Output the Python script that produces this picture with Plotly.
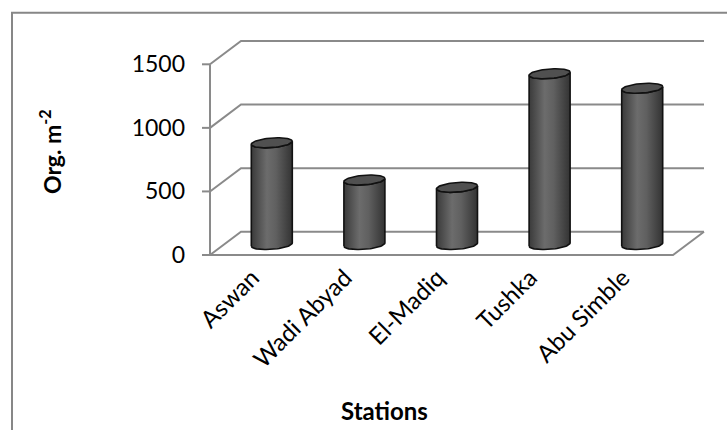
import numpy as np
import plotly.graph_objects as go

# ---------------- data ----------------
stations = ["Aswan", "Wadi Abyad", "El-Madiq", "Tushka", "Abu Simble"]
density = [800, 507, 450, 1343, 1229]
y_ticks = [0, 500, 1000, 1500]
y_title = "Org. m<sup>-2</sup>"
x_title = "Stations"

# ---------------- geometry (pixels) ----------------
W, H = 727, 430
PX_CAT = 92.6              # pixels per category on the front plane
PX_VAL = 190.7 / 1500      # pixels per value unit
X0_PX, Y0_PX = 210, 255    # front-left floor corner
DX = 31 / PX_CAT           # depth offset (category units)
DY = 23.3 / PX_VAL         # depth offset (value units)
L, R, T, B = 200, 715, 30, 262
x_range = [-0.5 + (L - X0_PX) / PX_CAT, -0.5 + (R - X0_PX) / PX_CAT]
y_range = [(Y0_PX - B) / PX_VAL, (Y0_PX - T) / PX_VAL]

def px_paper(px, py):
    return (px - L) / (R - L), (B - py) / (B - T)

GRID = "#8a8a8a"
n = len(stations)
xl, xr = -0.5, n - 0.5

fig = go.Figure()

# walls / gridlines
gx, gy = [], []
for v in y_ticks:
    gx += [xl, xl + DX, xr + DX, None]
    gy += [v, v + DY, v + DY, None]
gx += [xl, xr, xr + DX, None, xl, xl, None]
gy += [0, 0, DY, None, 0, max(y_ticks), None]
for v in y_ticks:
    gx += [xl - 8 / PX_CAT, xl, None]
    gy += [v, v, None]
fig.add_trace(go.Scatter(x=gx, y=gy, mode="lines", line=dict(color=GRID, width=2),
                         hoverinfo="skip", showlegend=False))

# cylinders
RX_PX, RY_PX, SLOPE = 20.5, 4.8, 0.075
base = DY * 0.45

def ell(cx, cy, t):
    ex = RX_PX * np.cos(t)
    ey = RY_PX * np.sin(t) + SLOPE * ex
    return cx + ex / PX_CAT, cy + ey / PX_VAL

for i, v in enumerate(density):
    cx = i + DX / 2
    top = v + base
    tb = np.linspace(np.pi, 2 * np.pi, 40)
    bx, by = ell(cx, base, tb)
    tt = np.linspace(2 * np.pi, np.pi, 40)
    tx, ty = ell(cx, top, tt)
    xs = list(bx) + list(tx) + [bx[0]]
    ys = list(by) + list(ty) + [by[0]]
    fig.add_trace(go.Scatter(
        x=xs, y=ys, mode="lines", fill="toself",
        fillgradient=dict(type="horizontal",
                          colorscale=[[0, "#3a3a3a"], [0.38, "#6c6c6c"],
                                      [0.6, "#606060"], [1, "#333333"]]),
        line=dict(color="#111111", width=1.6),
        hoverinfo="skip", showlegend=False))
    ta = np.linspace(0, 2 * np.pi, 80)
    ex, ey = ell(cx, top, ta)
    fig.add_trace(go.Scatter(
        x=ex, y=ey, mode="lines", fill="toself", fillcolor="#505050",
        line=dict(color="#111111", width=1.6),
        name=stations[i], hovertemplate=f"{stations[i]}: {v}<extra></extra>",
        showlegend=False))

FONT = "Lato, 'Open Sans', sans-serif"
yx, yy = px_paper(50, 152)
sx, sy = px_paper(384, 410)
annotations = [
    dict(text="<b>" + y_title + "</b>", textangle=-90,
         font=dict(size=23, family=FONT, color="#000"),
         showarrow=False, xref="paper", yref="paper",
         x=yx, y=yy, xanchor="center", yanchor="middle"),
    dict(text="<b>" + x_title + "</b>", font=dict(size=24, family=FONT, color="#000"),
         showarrow=False, xref="paper", yref="paper",
         x=sx, y=sy, xanchor="center", yanchor="middle"),
]

bx0, by0 = px_paper(12, 12.7)
bx1, by1 = px_paper(W + 20, H + 20)

fig.update_layout(
    width=W, height=H,
    margin=dict(l=L, r=W - R, t=T, b=H - B, autoexpand=False),
    paper_bgcolor="white", plot_bgcolor="white",
    font=dict(family=FONT, size=23, color="#000"),
    xaxis=dict(range=x_range, tickmode="array", tickvals=list(range(n)), ticktext=stations,
               tickangle=-45, ticks="", showgrid=False, zeroline=False, showline=False,
               fixedrange=True, ticklabelstandoff=-4, ticklabelshift=-4,
               tickfont=dict(size=24, family=FONT, color="#000")),
    yaxis=dict(range=y_range, tickmode="array", tickvals=y_ticks, ticks="",
               showgrid=False, zeroline=False, showline=False, fixedrange=True,
               ticklabelstandoff=14,
               tickfont=dict(size=23, family=FONT, color="#000")),
    annotations=annotations,
    shapes=[dict(type="rect", xref="paper", yref="paper", x0=bx0, y0=by1, x1=bx1, y1=by0,
                 line=dict(color="#878787", width=2), fillcolor="rgba(0,0,0,0)", layer="below")],
)

fig.write_html("out.html")
